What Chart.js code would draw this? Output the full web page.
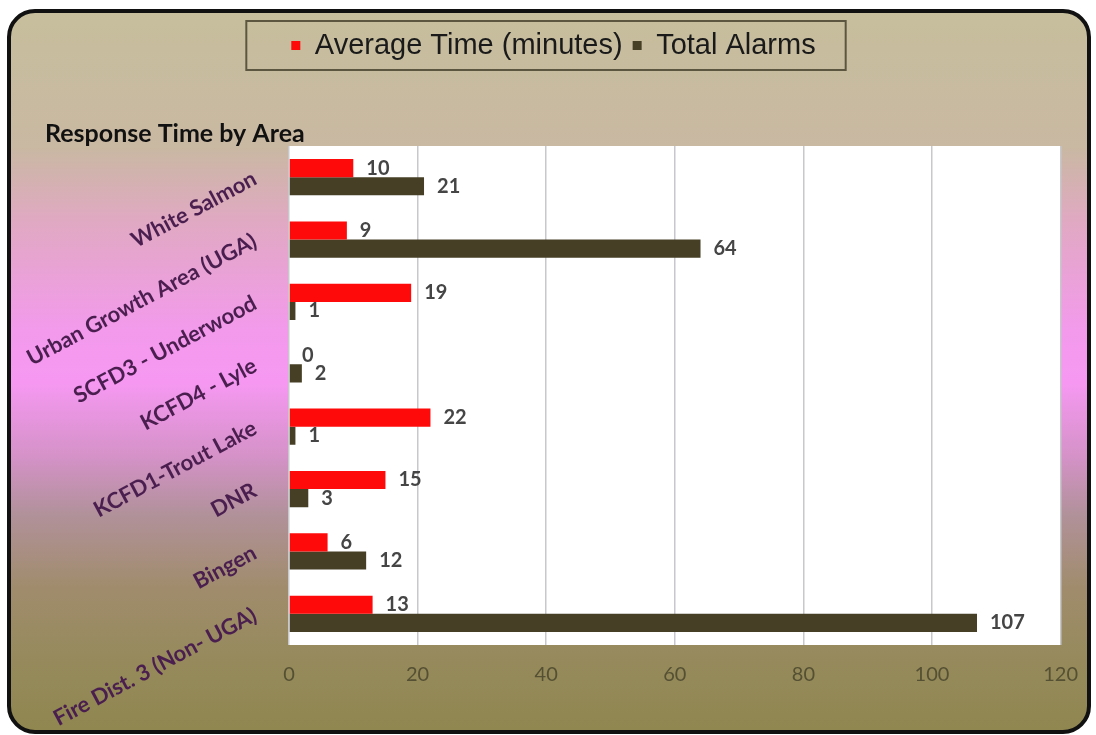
<!DOCTYPE html>
<html>
<head>
<meta charset="utf-8">
<script src="https://cdn.jsdelivr.net/npm/chart.js@4.4.0/dist/chart.umd.min.js"></script>
<style>
  body { margin:0; background:#fff; }
  #wrap { width:1096px; height:735px; }
</style>
</head>
<body>
<div id="wrap"><canvas id="mycanvas" width="1096" height="735"></canvas></div>
<script>
var areas = ['White Salmon', 'Urban Growth Area (UGA)', 'SCFD3 - Underwood', 'KCFD4 - Lyle',
             'KCFD1-Trout Lake', 'DNR', 'Bingen', 'Fire Dist. 3 (Non- UGA)'];
var avgTime = [10, 9, 19, 0, 22, 15, 6, 13];
var totalAlarms = [21, 64, 1, 2, 1, 3, 12, 107];
var xTicks = [0, 20, 40, 60, 80, 100, 120];

// background, frame and white plot area
var backdrop = {
  id: 'backdrop',
  afterLayout: function(chart){
    // title and legend sit 45px in, while the rotated labels may use the full left margin
    if (chart.titleBlock) chart.titleBlock.left = 45;
    if (chart.legend) chart.legend.left = 45;
  },
  beforeDraw: function(chart){
    var c = chart.ctx, w = chart.width, h = chart.height;
    c.save();
    c.fillStyle = '#ffffff';
    c.fillRect(0, 0, w, h);
    var g = c.createLinearGradient(0, 0, 0, h);
    g.addColorStop(0.00, '#c6bf9c');
    g.addColorStop(0.20, '#c9b8a2');
    g.addColorStop(0.30, '#e0a9c2');
    g.addColorStop(0.45, '#f39aec');
    g.addColorStop(0.52, '#f698f2');
    g.addColorStop(0.62, '#d592c8');
    g.addColorStop(0.70, '#b1919a');
    g.addColorStop(0.80, '#a08c6c');
    g.addColorStop(0.90, '#968a5c');
    g.addColorStop(1.00, '#8f864f');
    c.beginPath();
    c.roundRect(9, 11, w - 16, h - 14, 26);
    c.fillStyle = g;
    c.fill();
    c.lineWidth = 4;
    c.strokeStyle = '#111';
    c.stroke();
    var a = chart.chartArea;
    c.fillStyle = '#ffffff';
    c.fillRect(a.left, a.top, a.right - a.left, a.bottom - a.top);
    // legend frame
    var lg = chart.legend;
    if (lg && lg.legendHitBoxes && lg.legendHitBoxes.length) {
      var l = Infinity, r = -Infinity, t = Infinity, b = -Infinity;
      lg.legendHitBoxes.forEach(function(hb){
        l = Math.min(l, hb.left); r = Math.max(r, hb.left + hb.width);
        t = Math.min(t, hb.top); b = Math.max(b, hb.top + hb.height);
      });
      c.lineWidth = 2;
      c.strokeStyle = '#5c5640';
      c.strokeRect(l - 45, t - 10, (r - l) + 75, (b - t) + 20);
    }
    c.restore();
  }
};

// value labels to the right of each bar
var valueLabels = {
  id: 'valueLabels',
  afterDatasetsDraw: function(chart){
    var c = chart.ctx;
    c.save();
    c.font = 'bold 20px Lato';
    c.fillStyle = '#454545';
    c.textAlign = 'left';
    c.textBaseline = 'middle';
    chart.data.datasets.forEach(function(ds, i){
      chart.getDatasetMeta(i).data.forEach(function(bar, j){
        c.fillText(ds.data[j], bar.x + 13, bar.y);
      });
    });
    c.restore();
  }
};

var ctx = document.getElementById('mycanvas');
var chart = new Chart(ctx, {
  type: 'bar',
  data: {
    labels: areas,
    datasets: [{
      label: 'Average Time (minutes)',
      data: avgTime,
      backgroundColor: '#fe0a0a',
      barPercentage: 1,
      categoryPercentage: 0.58
    }, {
      label: 'Total Alarms',
      data: totalAlarms,
      backgroundColor: '#463f26',
      barPercentage: 1,
      categoryPercentage: 0.58
    }]
  },
  options: {
    indexAxis: 'y',
    responsive: false,
    animation: false,
    layout: { padding: { left: 0, right: 34, top: 21, bottom: 40 } },
    plugins: {
      legend: {
        display: true,
        position: 'top',
        weight: 3000,
        labels: {
          boxWidth: 9, boxHeight: 9,
          padding: 10,
          color: '#1a1a1a',
          font: { family: 'Liberation Sans', size: 29 }
        }
      },
      title: {
        display: true,
        text: 'Response Time by Area',
        align: 'start',
        color: '#111',
        font: { family: 'Lato', size: 25, weight: 'bold', lineHeight: 1 },
        padding: { top: 51, bottom: 0 }
      },
      tooltip: { enabled: false }
    },
    scales: {
      x: {
        min: 0, max: 120,
        afterBuildTicks: function(axis){
          axis.ticks = xTicks.map(function(v){ return { value: v }; });
        },
        afterFit: function(axis){
          axis.height = 50;
          axis.paddingBottom = 0;
        },
        grid: { color: '#c8c8cc', lineWidth: 1.5, drawTicks: false },
        border: { display: false },
        ticks: {
          padding: 18,
          color: '#555033',
          font: { family: 'Lato', size: 20 }
        }
      },
      y: {
        grid: { display: false },
        border: { display: false },
        afterFit: function(axis){
          axis.width = 289;
          axis.paddingTop = 0;
          axis.paddingBottom = 0;
        },
        ticks: {
          minRotation: 28, maxRotation: 28,
          padding: 26,
          color: '#4a1f4f',
          font: { family: 'Lato', size: 22, weight: 'bold' }
        }
      }
    }
  },
  plugins: [backdrop, valueLabels]
});
</script>
</body>
</html>
